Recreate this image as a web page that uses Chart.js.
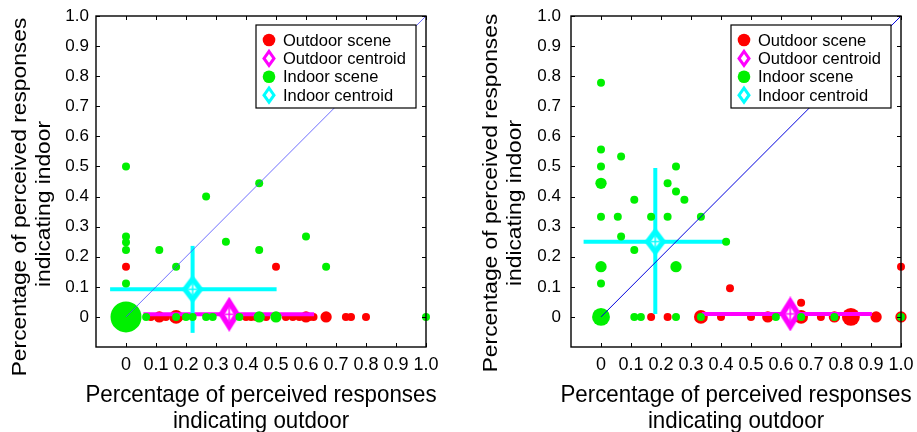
<!DOCTYPE html>
<html>
<head>
<meta charset="utf-8">
<script src="https://cdn.jsdelivr.net/npm/chart.js@4/dist/chart.umd.min.js"></script>
<style>
  body { margin: 0; background: #fff; width: 917px; height: 432px; overflow: hidden; position: relative; }
  canvas { position: absolute; top: 0; }
  #left { left: 0; }
  #right { left: 458px; }
</style>
</head>
<body>
<canvas id="left" width="458" height="432"></canvas>
<canvas id="right" width="459" height="432"></canvas>
<script>
const tickValues = [0, 0.1, 0.2, 0.3, 0.4, 0.5, 0.6, 0.7, 0.8, 0.9, 1.0];
const tickLabels = ['0', '0.1', '0.2', '0.3', '0.4', '0.5', '0.6', '0.7', '0.8', '0.9', '1.0'];
const legendNames = ['Outdoor scene', 'Outdoor centroid', 'Indoor scene', 'Indoor centroid'];
const xTitle = ['Percentage of perceived responses', 'indicating outdoor'];
const yTitle = ['Percentage of perceived responses', 'indicating indoor'];

// left panel: scenes (x, y, number of scenes at that spot)
const leftOutX = [0, 0.5, 0.083, 0.111, 0.133, 0.167, 0.178, 0.4, 0.417, 0.433, 0.467, 0.5, 0.533, 0.556, 0.578, 0.6, 0.611, 0.625, 0.667, 0.733, 0.75, 0.8];
const leftOutY = [0.167, 0.167, 0, 0, 0, 0, 0, 0, 0, 0, 0, 0, 0, 0, 0, 0, 0, 0, 0, 0, 0, 0];
const leftOutN = [1, 1, 1, 2, 1, 3, 1, 1, 1, 1, 1, 1, 1, 1, 1, 2, 1, 1, 2, 1, 1, 1];
const leftInX = [0, 0, 0, 0, 0, 0.111, 0.167, 0.267, 0.333, 0.444, 0.444, 0.6, 0.667, 0, 0.067, 0.167, 0.2, 0.222, 0.267, 0.289, 0.378, 0.444, 0.5, 1.0];
const leftInY = [0.5, 0.267, 0.248, 0.222, 0.111, 0.222, 0.167, 0.4, 0.25, 0.444, 0.222, 0.267, 0.167, 0, 0, 0, 0, 0, 0, 0, 0, 0, 0, 0];
const leftInN = [1, 1, 1, 1, 1, 1, 1, 1, 1, 1, 1, 1, 1, 15, 1, 1, 1, 1, 1, 1, 1, 2, 2, 1];
// left panel centroids: [x, y, xLow, xHigh, yLow, yHigh]
const leftOutCentroid = [0.344, 0.009, 0.058, 0.627, -0.02, 0.04];
const leftInCentroid = [0.222, 0.092, -0.053, 0.502, -0.053, 0.236];

// right panel
const rightOutX = [1.0, 0.43, 0.667, 0.167, 0.222, 0.333, 0.4, 0.5, 0.556, 0.667, 0.733, 0.778, 0.833, 0.917, 1.0];
const rightOutY = [0.167, 0.095, 0.047, 0, 0, 0, 0, 0, 0, 0, 0, 0, 0, 0, 0];
const rightOutN = [1, 1, 1, 1, 1, 3, 1, 1, 2, 3, 1, 2, 5, 2, 2];
const rightInX = [0, 0, 0.067, 0, 0.25, 0, 0.222, 0.25, 0.278, 0.111, 0, 0.056, 0.167, 0.222, 0.333, 0.067, 0.111, 0, 0.25, 0, 0.417, 0, 0.111, 0.133, 0.25, 0.333, 0.583, 0.667, 0.778, 1.0];
const rightInY = [0.778, 0.556, 0.533, 0.5, 0.5, 0.444, 0.444, 0.417, 0.389, 0.389, 0.333, 0.333, 0.333, 0.333, 0.333, 0.267, 0.222, 0.167, 0.167, 0.111, 0.25, 0, 0, 0, 0, 0, 0, 0, 0, 0];
const rightInN = [1, 1, 1, 1, 1, 2, 1, 1, 1, 1, 1, 1, 1, 1, 1, 1, 1, 2, 2, 1, 1, 5, 1, 1, 1, 1, 1, 1, 1, 1];
const rightOutCentroid = [0.631, 0.01, 0.336, 0.903, -0.02, 0.04];
const rightInCentroid = [0.181, 0.25, -0.058, 0.42, 0.01, 0.495];

const RED = '#ff0000', GREEN = '#00f000', MAGENTA = '#ff00ff', CYAN = '#00ffff';
const FONT = "'Liberation Sans', Arial, sans-serif";
const NARROW = "'Liberation Sans Narrow', 'Liberation Sans', Arial, sans-serif";

function points(xs, ys) {
  return xs.map((x, i) => ({ x: x, y: ys[i] }));
}

function radii(ns) {
  return ns.map(n => 4 * Math.sqrt(n));
}

// hollow-centred diamond used for the centroid markers
function diamondImage(color, w, h) {
  const c = document.createElement('canvas');
  c.width = w; c.height = h;
  const g = c.getContext('2d');
  const dia = (s) => {
    g.beginPath();
    g.moveTo(w / 2, h / 2 - h / 2 * s);
    g.lineTo(w / 2 + w / 2 * s, h / 2);
    g.lineTo(w / 2, h / 2 + h / 2 * s);
    g.lineTo(w / 2 - w / 2 * s, h / 2);
    g.closePath();
  };
  g.fillStyle = color; dia(1); g.fill();
  g.fillStyle = '#fff'; dia(0.42); g.fill();
  g.strokeStyle = color; g.lineWidth = 1.5;
  g.beginPath();
  g.moveTo(w / 2, h / 2 - h * 0.2); g.lineTo(w / 2, h / 2 + h * 0.2);
  g.moveTo(w / 2 - w * 0.2, h / 2); g.lineTo(w / 2 + w * 0.2, h / 2);
  g.stroke();
  return c;
}

function centroidSets(c, color, img, label, order) {
  return [
    { type: 'line', data: [{ x: c[2], y: c[1] }, { x: c[3], y: c[1] }], borderColor: color, borderWidth: 4, pointRadius: 0, order: order + 1, clip: false },
    { type: 'line', data: [{ x: c[0], y: c[4] }, { x: c[0], y: c[5] }], borderColor: color, borderWidth: 4, pointRadius: 0, order: order + 1, clip: false },
    { type: 'scatter', label: label, data: [{ x: c[0], y: c[1] }], pointStyle: img, pointRadius: 12, order: order, clip: false }
  ];
}

function drawLegend(ctx, area) {
  const w = 160, h = 83;
  const x0 = area.right - 10 - w, y0 = area.top + 9;
  ctx.save();
  ctx.fillStyle = '#fff';
  ctx.fillRect(x0, y0, w, h);
  ctx.strokeStyle = '#000';
  ctx.lineWidth = 1.2;
  ctx.strokeRect(x0, y0, w, h);
  const colors = [RED, MAGENTA, GREEN, CYAN];
  legendNames.forEach((name, i) => {
    const cx = x0 + 13, cy = y0 + 15 + i * 18.4;
    if (i % 2 === 0) {
      ctx.fillStyle = colors[i];
      ctx.beginPath();
      ctx.arc(cx, cy, 6.3, 0, Math.PI * 2);
      ctx.fill();
    } else {
      ctx.strokeStyle = colors[i];
      ctx.lineWidth = 3;
      ctx.beginPath();
      ctx.moveTo(cx, cy - 7); ctx.lineTo(cx + 5, cy); ctx.lineTo(cx, cy + 7); ctx.lineTo(cx - 5, cy);
      ctx.closePath();
      ctx.stroke();
    }
    ctx.fillStyle = '#000';
    ctx.font = '16.5px ' + FONT;
    ctx.textBaseline = 'middle';
    ctx.fillText(name, x0 + 27, cy + 1);
  });
  ctx.restore();
}

// axis titles: two lines each, the y one turned on its side
function drawTitles(ctx, area, p) {
  const cx = (area.left + area.right) / 2;
  ctx.save();
  ctx.fillStyle = '#000';
  ctx.textAlign = 'center';
  ctx.textBaseline = 'middle';
  ctx.font = '24px ' + FONT;
  xTitle.forEach((t, i) => {
    ctx.save();
    ctx.translate(cx, 395 + i * 26);
    ctx.scale(0.93, 1);
    ctx.fillText(t, 0, 0);
    ctx.restore();
  });
  ctx.font = '20px ' + FONT;
  yTitle.forEach((t, i) => {
    ctx.save();
    ctx.translate(p.yTitleX + i * 24, p.yTitleY[i]);
    ctx.rotate(-Math.PI / 2);
    ctx.scale(1.14, 1);
    ctx.fillText(t, 0, 0);
    ctx.restore();
  });
  ctx.restore();
}

// box round the plot, inward ticks on all four sides, legend in the corner
const framePlugin = {
  id: 'frame',
  afterDraw(chart) {
    const { ctx, chartArea: a, scales } = chart;
    ctx.save();
    ctx.strokeStyle = '#000';
    ctx.lineWidth = 1;
    ctx.beginPath();
    tickValues.forEach(v => {
      const px = Math.round(scales.x.getPixelForValue(v)) + 0.5;
      const py = Math.round(scales.y.getPixelForValue(v)) + 0.5;
      ctx.moveTo(px, a.bottom); ctx.lineTo(px, a.bottom - 4);
      ctx.moveTo(px, a.top); ctx.lineTo(px, a.top + 4);
      ctx.moveTo(a.left, py); ctx.lineTo(a.left + 4, py);
      ctx.moveTo(a.right, py); ctx.lineTo(a.right - 4, py);
    });
    ctx.stroke();
    ctx.lineWidth = 1.4;
    ctx.strokeRect(a.left, a.top, a.right - a.left, a.bottom - a.top);
    ctx.restore();
    drawLegend(ctx, a);
    drawTitles(ctx, a, chart.options.panel);
  }
};

function makeChart(id, p) {
  const datasets = [
    { type: 'scatter', label: legendNames[0], data: points(p.outX, p.outY), backgroundColor: RED, borderWidth: 0, pointRadius: radii(p.outN), order: 9, clip: false },
    ...centroidSets(p.outC, MAGENTA, diamondImage(MAGENTA, 22, 35), legendNames[1], 7),
    ...centroidSets(p.inC, CYAN, diamondImage(CYAN, 22, 29), legendNames[3], 5),
    { type: 'scatter', label: legendNames[2], data: points(p.inX, p.inY), backgroundColor: GREEN, borderWidth: 0, pointRadius: radii(p.inN), order: 3, clip: false },
    { type: 'line', data: [{ x: 0, y: 0 }, { x: 1, y: 1 }], borderColor: p.diagColor, borderWidth: p.diagWidth, pointRadius: 0, order: 1 }
  ];
  return new Chart(document.getElementById(id), {
    type: 'scatter',
    data: { datasets: datasets },
    options: {
      panel: p,
      responsive: false,
      animation: false,
      events: [],
      layout: { padding: { top: 16, right: p.padRight, left: 0, bottom: 0 } },
      plugins: { legend: { display: false }, tooltip: { enabled: false } },
      scales: {
        x: {
          type: 'linear', min: -0.1, max: 1.0,
          afterBuildTicks: s => { s.ticks = tickValues.map(v => ({ value: v })); },
          afterFit: s => { s.height = 85; s.paddingLeft = 0; s.paddingRight = 0; },
          grid: { display: false, drawTicks: false },
          border: { display: false },
          ticks: { autoSkip: false, maxRotation: 0, padding: 7, color: '#000', font: { family: NARROW, size: 18 }, callback: (v, i) => tickLabels[i] },
          title: { display: false }
        },
        y: {
          type: 'linear', min: -0.1, max: 1.0,
          afterBuildTicks: s => { s.ticks = tickValues.map(v => ({ value: v })); },
          afterFit: s => { s.width = p.yWidth; s.paddingTop = 0; s.paddingBottom = 0; },
          grid: { display: false, drawTicks: false },
          border: { display: false },
          ticks: { autoSkip: false, padding: p.yPad, color: '#000', font: { family: FONT, size: 17 }, callback: (v, i) => tickLabels[i] },
          title: { display: false }
        }
      }
    },
    plugins: [framePlugin]
  });
}

makeChart('left', {
  outX: leftOutX, outY: leftOutY, outN: leftOutN,
  inX: leftInX, inY: leftInY, inN: leftInN,
  outC: leftOutCentroid, inC: leftInCentroid,
  diagColor: '#4a4aff', diagWidth: 0.8,
  padRight: 32, yWidth: 96, yPad: 7, yTitleX: 20, yTitleY: [197, 204]
});

makeChart('right', {
  outX: rightOutX, outY: rightOutY, outN: rightOutN,
  inX: rightInX, inY: rightInY, inN: rightInN,
  outC: rightOutCentroid, inC: rightInCentroid,
  diagColor: '#0000dd', diagWidth: 1,
  padRight: 16, yWidth: 113, yPad: 10, yTitleX: 33, yTitleY: [193, 203]
});
</script>
</body>
</html>
